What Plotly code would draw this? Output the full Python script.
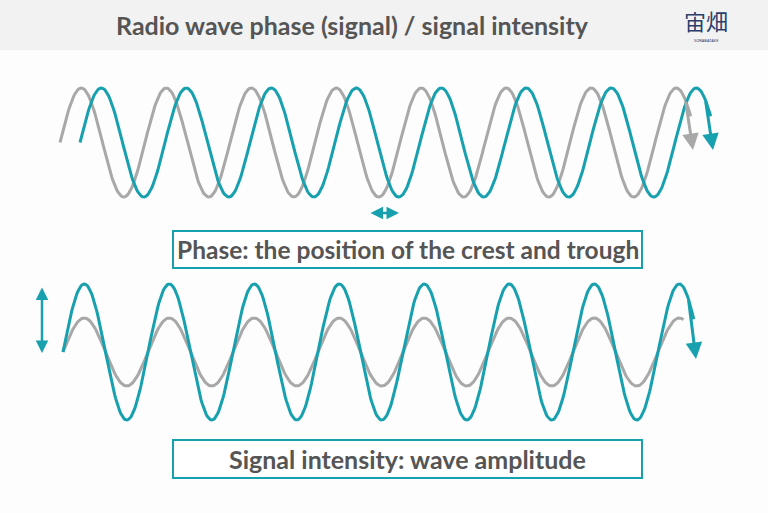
import numpy as np
import plotly.graph_objects as go

# wave illustration parameters (pixel space of the 768x513 picture)
period = 85.0
top_center, top_amp = 142.5, 54.5
bottom_center = 352.0
bottom_amps = [34.0, 68.0]          # gray, teal
top_starts = [60.0, 80.0]           # gray, teal (teal is a quarter period behind)
bottom_start = 63.0
end_cycles = [7.42, 7.42]           # where the top curves stop before the arrow tip
bottom_end_cycles = [7.30, 7.42]
top_tips = [(693, 150), (713, 150)]
bottom_tip = (696, 359)

title = "Radio wave phase (signal) / signal intensity"
phase_label = "Phase: the position of the crest and trough"
intensity_label = "Signal intensity: wave amplitude"

TEAL = "#17a0ae"
GRAY = "#a8a8a8"
TEXT = "#555555"
FONT = "Lato"


def wave(start, center, amp, cycles):
    x = np.linspace(start, start + cycles * period, 600)
    y = center - amp * np.sin(2 * np.pi * (x - start) / period)
    return x, y


def end_arrow(x, y, tip, color):
    # tail sits a little back on the curve so the shaft overlaps the line
    return dict(x=tip[0], y=tip[1], ax=x[-6], ay=y[-6],
                xref="x", yref="y", axref="x", ayref="y",
                showarrow=True, arrowhead=2, arrowsize=1.1, standoff=0,
                arrowwidth=3, arrowcolor=color, text="")


fig = go.Figure()
annotations = []

# top: two waves with a phase offset
for start, cyc, tip, color in zip(top_starts, end_cycles, top_tips, [GRAY, TEAL]):
    x, y = wave(start, top_center, top_amp, cyc)
    fig.add_trace(go.Scatter(x=x, y=y, mode="lines", line=dict(color=color, width=3),
                             hoverinfo="skip"))
    annotations.append(end_arrow(x, y, tip, color))

# bottom: same phase, different amplitude
for amp, cyc, color in zip(bottom_amps, bottom_end_cycles, [GRAY, TEAL]):
    x, y = wave(bottom_start, bottom_center, amp, cyc)
    fig.add_trace(go.Scatter(x=x, y=y, mode="lines", line=dict(color=color, width=3),
                             hoverinfo="skip"))
    if color == TEAL:
        annotations.append(end_arrow(x, y, bottom_tip, color))

# double arrows
for (x0, y0, x1, y1) in [(369, 213, 399, 213), (42, 286, 42, 353)]:
    annotations.append(dict(x=x1, y=y1, ax=x0, ay=y0, xref="x", yref="y",
                            axref="x", ayref="y", showarrow=True, arrowhead=2,
                            startarrowhead=2, arrowside="end+start", arrowsize=1,
                            startarrowsize=1, arrowwidth=2.5, arrowcolor=TEAL, text=""))

# title and labels
annotations.append(dict(x=352, y=25, xref="x", yref="y", text="<b>%s</b>" % title,
                        showarrow=False, font=dict(family=FONT, size=25, color=TEXT)))
annotations.append(dict(x=407.5, y=249.5, xref="x", yref="y", text="<b>%s</b>" % phase_label,
                        showarrow=False, font=dict(family=FONT, size=24.5, color=TEXT)))
annotations.append(dict(x=407.5, y=459, xref="x", yref="y", text="<b>%s</b>" % intensity_label,
                        showarrow=False, font=dict(family=FONT, size=25, color=TEXT)))

# logo
annotations.append(dict(x=706, y=20, xref="x", yref="y", text="宙畑", showarrow=False,
                        font=dict(family="Noto Sans CJK JP", size=22, color="#2c3e6b")))
annotations.append(dict(x=706, y=40, xref="x", yref="y", text="SORABATAKE", showarrow=False,
                        font=dict(family="Noto Sans", size=4, color="#2c3e6b")))

shapes = [
    dict(type="rect", x0=0, x1=768, y0=0, y1=50, xref="x", yref="y",
         fillcolor="#f2f2f2", line=dict(width=0), layer="below"),
    dict(type="rect", x0=173, x1=642, y0=231, y1=268, xref="x", yref="y",
         fillcolor="white", line=dict(color=TEAL, width=2)),
    dict(type="rect", x0=173, x1=642, y0=440, y1=478, xref="x", yref="y",
         fillcolor="white", line=dict(color=TEAL, width=2)),
]

fig.update_layout(
    width=768, height=513,
    margin=dict(l=0, r=0, t=0, b=0),
    paper_bgcolor="#fdfdfd", plot_bgcolor="#fdfdfd",
    showlegend=False,
    xaxis=dict(range=[0, 768], visible=False, fixedrange=True),
    yaxis=dict(range=[513, 0], visible=False, fixedrange=True),
    shapes=shapes,
    annotations=annotations,
)

fig.write_html("out.html", config={"displayModeBar": False},
               post_script="document.body.style.margin='0';document.body.style.overflow='hidden';")
